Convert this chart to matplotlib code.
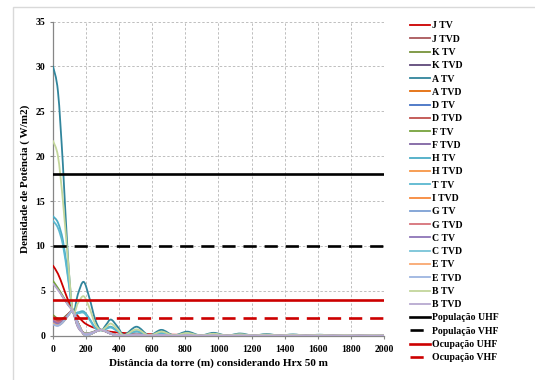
import matplotlib
matplotlib.use('Agg')
import matplotlib.pyplot as plt
from matplotlib.path import Path
from matplotlib.patches import PathPatch, Rectangle
from matplotlib.lines import Line2D

plt.rcParams['font.family'] = ['Liberation Serif', 'DejaVu Serif']
plt.rcParams['font.weight'] = 'bold'

# ---------------- data ----------------
distance = [0, 30, 60, 90, 120, 150, 185, 220, 255, 290, 320, 350, 390, 430, 505, 580,
            655, 730, 810, 890, 970, 1050, 1130, 1210, 1290, 1370, 1450, 1530, 1610,
            1690, 1770, 1850, 1930, 2000]

tail_low = [0.12, 0.02, 0.08, 0.01, 0.06, 0.01, 0.05, 0.01, 0.04, 0.01, 0.03, 0.01,
            0.03, 0.01, 0.02, 0.01, 0.02, 0.01, 0.02, 0.01]

j_tv = [7.8, 6.9, 5.5, 4.0, 2.9, 2.2, 1.5, 1.1, 0.85, 0.65, 0.52, 0.44, 0.36, 0.3, 0.22, 0.17,
        0.13, 0.11, 0.09, 0.08, 0.07, 0.06, 0.05, 0.05, 0.04, 0.04, 0.03, 0.03, 0.03, 0.03,
        0.02, 0.02, 0.02, 0.02]
j_tvd = [2.0, 1.6, 1.8, 2.35, 2.75, 1.45, 0.22, 0.15, 0.45, 0.65, 0.5, 0.25, 0.05, 0.03] + tail_low
k_tv = [2.3, 1.9, 1.95, 2.4, 2.75, 1.5, 0.25, 0.15, 0.45, 0.65, 0.5, 0.25, 0.05, 0.03] + tail_low
k_tvd = [5.9, 5.2, 4.3, 3.5, 2.7, 1.0, 0.3, 0.28, 0.5, 0.65, 0.45, 0.2, 0.05, 0.03] + tail_low
a_tv = [30.0, 27.2, 19.0, 8.8, 2.7, 4.6, 6.0, 4.2, 1.8, 0.6, 1.2, 1.8, 1.0, 0.1, 1.0, 0.05,
        0.65, 0.04, 0.45, 0.03, 0.32, 0.02, 0.24, 0.02, 0.18, 0.02, 0.14, 0.01, 0.11, 0.01,
        0.09, 0.01, 0.08, 0.03]
a_tvd = [1.6, 1.3, 1.65, 2.3, 2.75, 1.4, 0.2, 0.14, 0.44, 0.65, 0.5, 0.24, 0.05, 0.03] + tail_low
d_tv = [1.5, 1.25, 1.6, 2.3, 2.75, 1.4, 0.2, 0.14, 0.44, 0.65, 0.5, 0.24, 0.05, 0.03] + tail_low
d_tvd = [2.1, 1.7, 1.85, 2.35, 2.75, 1.45, 0.22, 0.15, 0.45, 0.65, 0.5, 0.25, 0.05, 0.03] + tail_low
f_tv = [6.1, 5.3, 4.4, 3.5, 2.7, 1.1, 0.35, 0.3, 0.5, 0.65, 0.45, 0.22, 0.06, 0.03] + tail_low
f_tvd = [1.75, 1.4, 1.7, 2.3, 2.75, 1.42, 0.21, 0.15, 0.45, 0.65, 0.5, 0.24, 0.05, 0.03] + tail_low
h_tv = [13.3, 12.6, 10.6, 6.8, 2.7, 2.6, 2.7, 1.9, 0.9, 0.6, 0.8, 1.0, 0.55, 0.05, 0.5, 0.03,
        0.32, 0.02, 0.22, 0.02, 0.16, 0.01, 0.12, 0.01, 0.09, 0.01, 0.07, 0.01, 0.06, 0.01,
        0.05, 0.01, 0.04, 0.01]
h_tvd = [1.55, 1.3, 1.6, 2.3, 2.75, 1.4, 0.2, 0.14, 0.44, 0.65, 0.5, 0.24, 0.05, 0.03] + tail_low
t_tv = [12.8, 12.0, 10.1, 6.5, 2.7, 2.5, 2.55, 1.8, 0.85, 0.6, 0.75, 0.9, 0.5, 0.05, 0.45, 0.03,
        0.3, 0.02, 0.2, 0.02, 0.15, 0.01, 0.11, 0.01, 0.08, 0.01, 0.07, 0.01, 0.05, 0.01,
        0.05, 0.01, 0.04, 0.01]
i_tvd = [1.45, 1.2, 1.6, 2.25, 2.75, 1.4, 0.2, 0.14, 0.44, 0.65, 0.5, 0.24, 0.05, 0.03] + tail_low
g_tv = [1.4, 1.2, 1.55, 2.25, 2.75, 1.4, 0.2, 0.14, 0.44, 0.65, 0.5, 0.24, 0.05, 0.03] + tail_low
g_tvd = [1.8, 1.5, 1.7, 2.3, 2.75, 1.42, 0.21, 0.15, 0.45, 0.65, 0.5, 0.24, 0.05, 0.03] + tail_low
c_tv = [1.65, 1.35, 1.65, 2.3, 2.75, 1.4, 0.2, 0.14, 0.44, 0.65, 0.5, 0.24, 0.05, 0.03] + tail_low
c_tvd = [1.3, 1.15, 1.5, 2.2, 2.75, 1.38, 0.19, 0.13, 0.43, 0.65, 0.5, 0.23, 0.05, 0.03] + tail_low
e_tv = [1.35, 1.15, 1.5, 2.2, 2.75, 1.38, 0.19, 0.13, 0.43, 0.65, 0.5, 0.23, 0.05, 0.03] + tail_low
e_tvd = [1.25, 1.1, 1.5, 2.2, 2.75, 1.38, 0.19, 0.13, 0.43, 0.65, 0.5, 0.23, 0.05, 0.03] + tail_low
b_tv = [21.7, 20.0, 15.0, 8.5, 2.7, 3.6, 4.4, 3.1, 1.3, 0.6, 0.95, 1.35, 0.7, 0.05, 0.7, 0.03,
        0.45, 0.03, 0.3, 0.02, 0.22, 0.02, 0.16, 0.01, 0.12, 0.01, 0.1, 0.01, 0.08, 0.01,
        0.07, 0.01, 0.06, 0.02]
b_tvd = [5.8, 5.1, 4.3, 3.45, 2.7, 1.0, 0.3, 0.28, 0.48, 0.65, 0.44, 0.2, 0.05, 0.03] + tail_low

series_labels = ['J TV', 'J TVD', 'K TV', 'K TVD', 'A TV', 'A TVD', 'D TV', 'D TVD',
                 'F TV', 'F TVD', 'H TV', 'H TVD', 'T TV', 'I TVD', 'G TV', 'G TVD',
                 'C TV', 'C TVD', 'E TV', 'E TVD', 'B TV', 'B TVD']
series_values = [j_tv, j_tvd, k_tv, k_tvd, a_tv, a_tvd, d_tv, d_tvd, f_tv, f_tvd,
                 h_tv, h_tvd, t_tv, i_tvd, g_tv, g_tvd, c_tv, c_tvd, e_tv, e_tvd,
                 b_tv, b_tvd]

limit_labels = ['População UHF', 'População VHF', 'Ocupação UHF', 'Ocupação VHF']
limit_values = [18, 10, 4, 2]
limit_span = [0, 2000]

x_ticks = list(range(0, 2001, 200))
y_ticks = list(range(0, 36, 5))

# ---------------- styles ----------------
colors = ['#CC0000', '#A9575A', '#77933C', '#5F497A', '#31859C', '#E46C0A', '#4472C4',
          '#C0504D', '#76A33D', '#8064A2', '#4BACC6', '#F79646', '#5BB8D0', '#F7893C',
          '#7DA0D4', '#D7727A', '#8E75B8', '#78C4D8', '#F9A871', '#9DB5E0', '#C3D69B',
          '#B8A9D0']
limit_colors = ['black', 'black', '#CC0000', '#CC0000']
limit_styles = ['-', (0, (5, 3)), '-', (0, (5, 3))]


def smooth_path(xs, ys):
    verts = [(xs[0], ys[0])]
    codes = [Path.MOVETO]
    n = len(xs)
    for i in range(n - 1):
        x0, y0 = (xs[i - 1], ys[i - 1]) if i > 0 else (xs[i], ys[i])
        x1, y1 = xs[i], ys[i]
        x2, y2 = xs[i + 1], ys[i + 1]
        x3, y3 = (xs[i + 2], ys[i + 2]) if i + 2 < n else (x2, y2)
        c1 = (x1 + (x2 - x0) / 6.0, y1 + (y2 - y0) / 6.0)
        c2 = (x2 - (x3 - x1) / 6.0, y2 - (y3 - y1) / 6.0)
        verts += [c1, c2, (x2, y2)]
        codes += [Path.CURVE4] * 3
    return Path(verts, codes)


fig = plt.figure(figsize=(5.35, 3.8), dpi=100)
fig.patches.append(Rectangle((13 / 535, -0.2), 1.2, 1.2 - 7 / 380, transform=fig.transFigure,
                             fill=False, edgecolor='#D9D9D9', lw=1.0, zorder=0))
ax = fig.add_axes([53 / 535, 1 - 335.7 / 380, (384 - 53) / 535, (335.7 - 21.5) / 380])

handles = []
for vals, col, lab in zip(series_values, colors, series_labels):
    patch = PathPatch(smooth_path(distance, vals), facecolor='none', edgecolor=col,
                      lw=1.3, zorder=3, capstyle='round', joinstyle='round')
    ax.add_patch(patch)
    handles.append(Line2D([], [], color=col, lw=1.3))

for val, col, ls in zip(limit_values, limit_colors, limit_styles):
    ax.plot(limit_span, [val, val], color=col, lw=1.9, linestyle=ls, zorder=4)
    handles.append(Line2D([], [], color=col, lw=1.9, linestyle=ls))

ax.set_xlim(0, 2000)
ax.set_ylim(0, 35)
ax.set_xticks(x_ticks)
ax.set_yticks(y_ticks)
ax.grid(True, color='#BFBFBF', linestyle=(0, (2.5, 2)), lw=0.7)
ax.set_axisbelow(True)
for s in ['top', 'right']:
    ax.spines[s].set_visible(False)
for s in ['left', 'bottom']:
    ax.spines[s].set_color('#868686')
    ax.spines[s].set_linewidth(0.9)
ax.tick_params(axis='both', labelsize=7, length=2.5, color='#868686', width=0.8)
ax.tick_params(axis='y', pad=3)
ax.tick_params(axis='x', pad=4)

ax.set_ylabel('Densidade de Potência ( W/m2)', fontsize=8, fontweight='bold')
ax.set_xlabel('Distância da torre (m) considerando Hrx 50 m', fontsize=8, fontweight='bold')
ax.yaxis.set_label_coords(-0.07, 0.5)
ax.xaxis.set_label_coords(0.5, -0.071)

fig.legend(handles, series_labels + limit_labels, loc='upper left',
           bbox_to_anchor=(406 / 535, 1 - 17.5 / 380), frameon=False, fontsize=7,
           handlelength=2.1, handletextpad=0.2, labelspacing=0.44, borderaxespad=0,
           borderpad=0.4)

fig.savefig('out.png', dpi=100)
